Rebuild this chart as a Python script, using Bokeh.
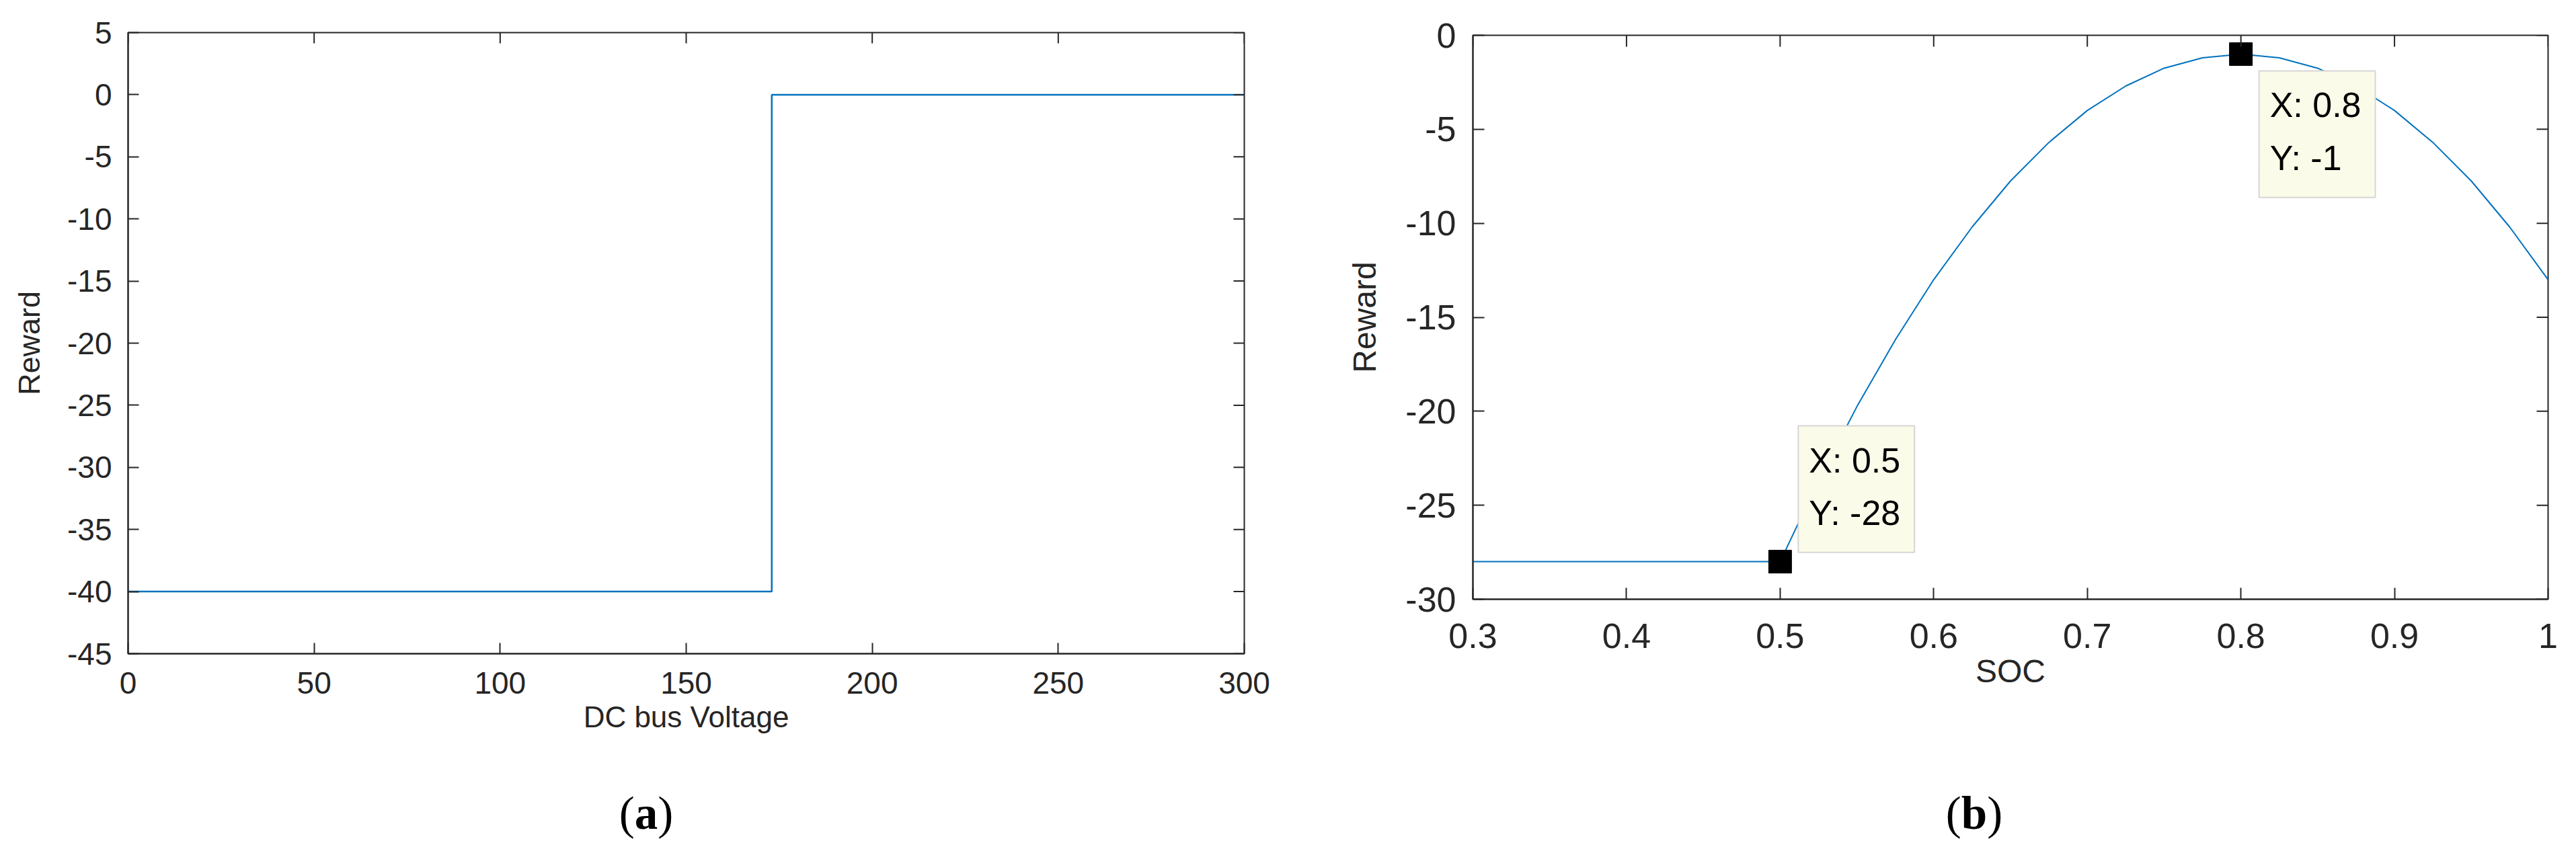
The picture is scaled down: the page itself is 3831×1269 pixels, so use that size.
import math
from bokeh.plotting import figure
from bokeh.models import FixedTicker, Range1d, Label, Div, Spacer
from bokeh.layouts import row, column
from bokeh.embed import file_html
from bokeh.resources import INLINE

# ---------------- data: panel (a) ----------------
voltage = [0, 173, 173, 300]
reward_a = [-40, -40, 0, 0]
xticks_a = [0, 50, 100, 150, 200, 250, 300]
xlabels_a = ["0", "50", "100", "150", "200", "250", "300"]
yticks_a = [5, 0, -5, -10, -15, -20, -25, -30, -35, -40, -45]
ylabels_a = ["5", "0", "-5", "-10", "-15", "-20", "-25", "-30", "-35", "-40", "-45"]

# ---------------- data: panel (b) ----------------
soc = [0.30, 0.35, 0.40, 0.45, 0.50, 0.525, 0.55, 0.575, 0.60, 0.625, 0.65,
       0.675, 0.70, 0.725, 0.75, 0.775, 0.80, 0.825, 0.85, 0.875, 0.90,
       0.925, 0.95, 0.975, 1.00]
reward_b = [-28, -28, -28, -28, -28, -23.7, -19.75, -16.2, -13, -10.2, -7.75,
            -5.7, -4, -2.7, -1.75, -1.2, -1, -1.2, -1.75, -2.7, -4,
            -5.7, -7.75, -10.2, -13]
tips_x = [0.5, 0.8]
tips_y = [-28, -1]
xticks_b = [0.3, 0.4, 0.5, 0.6, 0.7, 0.8, 0.9, 1]
xlabels_b = ["0.3", "0.4", "0.5", "0.6", "0.7", "0.8", "0.9", "1"]
yticks_b = [0, -5, -10, -15, -20, -25, -30]
ylabels_b = ["0", "-5", "-10", "-15", "-20", "-25", "-30"]

captions = ["a", "b"]

AX = "#262626"
BLUE = "#0072BD"
FONT = "Liberation Sans"


def style_axis(ax, ticks, labels, fs, standoff, tick_len, label_fs, label_standoff):
    ax.ticker = FixedTicker(ticks=ticks)
    ax.major_label_overrides = {t: l for t, l in zip(ticks, labels)}
    ax.axis_line_color = AX
    ax.axis_line_width = 2
    ax.major_tick_line_color = AX
    ax.major_tick_line_width = 2
    ax.major_tick_in = tick_len
    ax.major_tick_out = 0
    ax.minor_tick_line_color = None
    ax.major_label_text_font = FONT
    ax.major_label_text_color = AX
    ax.major_label_text_font_size = f"{fs}px"
    ax.major_label_standoff = standoff
    ax.axis_label_text_font = FONT
    ax.axis_label_text_font_style = "normal"
    ax.axis_label_text_color = AX
    ax.axis_label_text_font_size = f"{label_fs}px"
    ax.axis_label_standoff = label_standoff


def make_fig(width, height, xr, yr, borders):
    l, r, t, b = borders
    p = figure(width=width, height=height, x_range=xr, y_range=yr,
               output_backend="svg", toolbar_location=None,
               min_border_left=l, min_border_right=r,
               min_border_top=t, min_border_bottom=b)
    p.grid.visible = False
    p.outline_line_color = AX
    p.outline_line_width = 2
    p.background_fill_color = "white"
    p.border_fill_color = "white"
    return p


def mirror_ticks(p, xticks, yticks, xr, yr, tick_len):
    # inward ticks on the top and right edges (box on); the outer half is clipped by the frame
    p.scatter(xticks, [yr.end] * len(xticks), marker="dash", angle=math.pi / 2,
              size=2 * tick_len, line_color=AX, line_width=2)
    p.scatter([xr.end] * len(yticks), yticks, marker="dash",
              size=2 * tick_len, line_color=AX, line_width=2)


def caption_div(width, left, top, letter):
    html = (f'<div style="position:relative;width:{width}px;height:100px;">'
            f'<span style="position:absolute;left:{left}px;top:{top}px;'
            f'transform:translate(-50%,-50%);font-family:\'Liberation Serif\';'
            f'font-size:69px;line-height:1;color:black;white-space:nowrap;">'
            f'(<b>{letter}</b>)</span></div>')
    return Div(text=html, width=width, height=100)


# ---------------- panel (a) ----------------
xr1, yr1 = Range1d(0, 300), Range1d(-45, 5)
p1 = make_fig(1990, 1160, xr1, yr1, (190, 140, 48, 188))
p1.line(voltage, reward_a, line_color=BLUE, line_width=2.5)
p1.xaxis.axis_label = "DC bus Voltage"
p1.yaxis.axis_label = "Reward"
style_axis(p1.xaxis[0], xticks_a, xlabels_a, 46, 27, 16, 44, 7)
style_axis(p1.yaxis[0], yticks_a, ylabels_a, 46, 24, 16, 45, 28)
mirror_ticks(p1, xticks_a, yticks_a, xr1, yr1, 16)

# ---------------- panel (b) ----------------
xr2, yr2 = Range1d(0.3, 1.0), Range1d(-30, 0)
p2 = make_fig(1841, 1150, xr2, yr2, (186, 52, 48, 263))
p2.line(soc, reward_b, line_color=BLUE, line_width=2)
p2.scatter(tips_x, tips_y, marker="square", size=34, fill_color="black",
           line_color="black")
p2.xaxis.axis_label = "SOC"
p2.yaxis.axis_label = "Reward"
style_axis(p2.xaxis[0], xticks_b, xlabels_b, 52, 36, 17, 48, 5)
style_axis(p2.yaxis[0], yticks_b, ylabels_b, 52, 25, 17, 48, 31)
mirror_ticks(p2, xticks_b, yticks_b, xr2, yr2, 17)

# data tips (offsets in screen pixels from the marked point)
tip_offsets = [(27, 202), (27, -25)]
for (tx, ty), (ox, oy) in zip(zip(tips_x, tips_y), tip_offsets):
    p2.add_layout(Label(
        x=tx, y=ty, x_offset=ox, y_offset=oy,
        text=f"X: {tx:g}\nY: {ty:g}",
        text_font=FONT, text_font_size="52px", text_color="black",
        text_align="left", text_baseline="top", text_line_height=1.35,
        background_fill_color="#FBFBE9", border_line_color="#D6D6D6",
        border_line_width=2,
        padding=dict(left=16, right=21, top=22, bottom=30),
    ))

cap_a = caption_div(1990, 956, 45, captions[0])
cap_b = caption_div(1841, 2921 - 1990, 51, captions[1])

layout = row(column(p1, cap_a), column(Spacer(height=4, width=1841), p2, cap_b))
open("out.html", "w").write(file_html(layout, INLINE))
